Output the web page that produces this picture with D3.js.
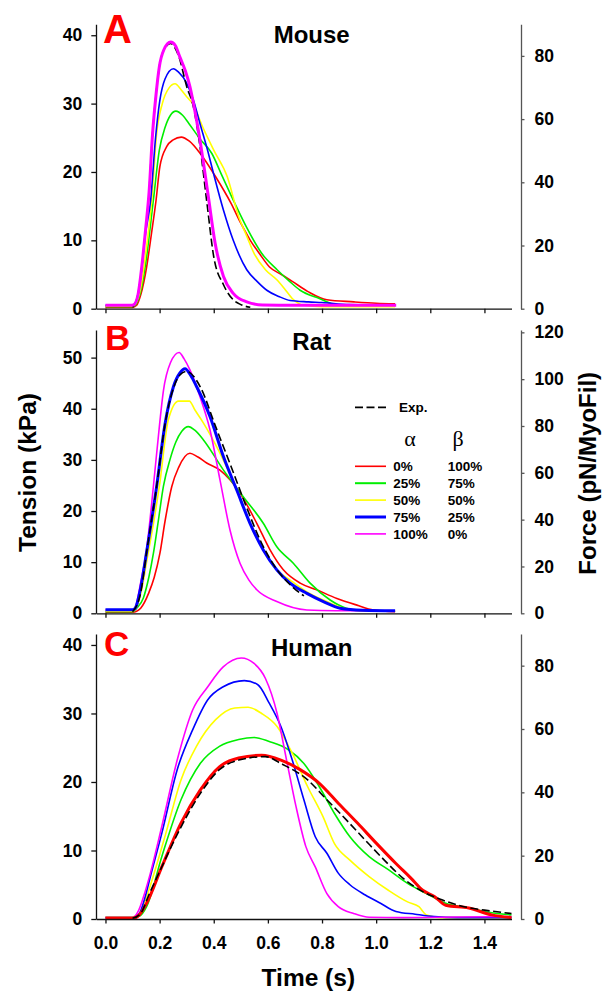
<!DOCTYPE html>
<html>
<head>
<meta charset="utf-8">
<script src="https://cdn.jsdelivr.net/npm/d3@7"></script>
<style>
  body { margin: 0; background: #fff; }
  svg text { font-family: "Liberation Sans", Arial, sans-serif; font-weight: bold; }
</style>
</head>
<body>
<svg width="603" height="992"></svg>
<script>
// ---- data: [time (s), tension (kPa)] ----
var timeTicks = [0, 0.2, 0.4, 0.6, 0.8, 1.0, 1.2, 1.4];

var mouseTicksL = [0, 10, 20, 30, 40];
var mouseTicksR = [0, 20, 40, 60, 80];
var ratTicksL = [0, 10, 20, 30, 40, 50];
var ratTicksR = [0, 20, 40, 60, 80, 100, 120];
var humanTicksL = [0, 10, 20, 30, 40];
var humanTicksR = [0, 20, 40, 60, 80];

var legendAlpha = ["0%", "25%", "50%", "75%", "100%"];
var legendBeta = ["100%", "75%", "50%", "25%", "0%"];

// Mouse
var mouseExp = [[0.1,0.2],[0.12,2],[0.134,6],[0.148,11.5],[0.161,17],[0.174,25.6],[0.186,31],[0.199,35.4],[0.215,37.8],[0.24,38.8],[0.27,37],[0.3,32.5],[0.325,29.5],[0.35,23.5],[0.375,15.4],[0.4,7.6],[0.436,3.5],[0.472,1.3],[0.5,0.6],[0.535,0.2]];
var mouseRed = [[0,0.2],[0.1,0.2],[0.115,0.5],[0.13,2],[0.152,6.1],[0.17,11],[0.187,15.9],[0.201,20.8],[0.226,23.7],[0.25,24.7],[0.28,25.1],[0.31,24.5],[0.35,22.7],[0.407,19.3],[0.464,15.4],[0.5,12.5],[0.535,10],[0.57,8],[0.606,6.1],[0.65,5],[0.69,4],[0.748,2.5],[0.818,1.3],[0.918,1.0],[1.0,0.8],[1.07,0.7]];
var mouseGreen = [[0,0.3],[0.1,0.3],[0.115,0.8],[0.13,2.5],[0.148,6.5],[0.177,15.9],[0.199,23.2],[0.22,26.5],[0.24,28.3],[0.26,28.9],[0.285,28.3],[0.308,27.1],[0.35,24.8],[0.393,22.7],[0.43,19.5],[0.478,15.4],[0.52,12],[0.577,8.1],[0.634,5.7],[0.68,4],[0.719,2.7],[0.79,1.5],[0.86,0.5],[1.07,0.4]];
var mouseYellow = [[0,0.4],[0.1,0.4],[0.112,0.8],[0.13,3],[0.15,8.5],[0.171,15.9],[0.189,25.6],[0.21,30],[0.235,32.3],[0.257,32.9],[0.28,32],[0.3,31],[0.322,30],[0.36,26.5],[0.4,23.2],[0.45,19.3],[0.492,13.5],[0.52,10.8],[0.549,8.1],[0.591,5.7],[0.634,4.2],[0.66,3],[0.69,1.5],[0.733,0.5],[0.8,0.3],[1.07,0.3]];
var mouseBlue = [[0,0.5],[0.1,0.5],[0.112,1],[0.13,4.5],[0.148,11],[0.167,15.9],[0.185,25],[0.201,30.5],[0.22,33.6],[0.251,35.1],[0.27,34.6],[0.3,33],[0.325,30.5],[0.349,27.1],[0.375,23.5],[0.399,19.8],[0.436,14.4],[0.472,10],[0.522,5.7],[0.56,4],[0.596,2.7],[0.64,1.8],[0.682,1.2],[0.75,1.0],[0.8,0.9],[0.9,0.6],[1.07,0.5]];
var mouseMagenta = [[0,0.5],[0.095,0.5],[0.105,0.6],[0.12,2],[0.134,6.1],[0.148,11.5],[0.161,17],[0.174,25.6],[0.186,31],[0.199,35.4],[0.215,37.8],[0.241,39],[0.258,38.5],[0.275,36.8],[0.295,34.8],[0.312,32.5],[0.33,29],[0.349,24.7],[0.365,20.5],[0.38,16.4],[0.405,9.6],[0.436,4.7],[0.472,2.25],[0.522,1.0],[0.58,0.55],[0.7,0.5],[0.9,0.5],[1.074,0.5]];

// Rat
var ratExp = [[0.1,0.3],[0.13,4],[0.152,12],[0.189,24.8],[0.22,37],[0.251,44],[0.275,46.6],[0.3,47.3],[0.35,44.3],[0.407,36.5],[0.464,28.7],[0.52,20.9],[0.577,13.7],[0.634,8.5],[0.69,5.2],[0.733,3.4]];
var ratRed = [[0,0.2],[0.1,0.2],[0.115,0.4],[0.13,1],[0.16,4],[0.18,7],[0.201,11.7],[0.22,18],[0.245,24.8],[0.27,28.5],[0.312,31.3],[0.34,30.6],[0.374,29.4],[0.423,28],[0.46,26.1],[0.497,23.5],[0.559,17.6],[0.608,12.4],[0.657,8.5],[0.719,5.9],[0.78,4.6],[0.855,2.9],[0.929,1.6],[0.99,0.65],[1.07,0.3]];
var ratGreen = [[0,0.3],[0.1,0.3],[0.115,1],[0.14,3],[0.16,7],[0.177,11.7],[0.195,18],[0.214,24.8],[0.238,30],[0.26,33.5],[0.282,35.6],[0.306,36.5],[0.33,35.8],[0.362,33.9],[0.436,28],[0.509,22.8],[0.583,17.6],[0.633,13],[0.694,9.8],[0.756,5.9],[0.83,2.6],[0.889,1.0],[0.96,0.4],[1.07,0.4]];
var ratYellow = [[0,0.4],[0.1,0.4],[0.113,1],[0.135,5],[0.155,11],[0.177,17.5],[0.199,24.8],[0.232,37.8],[0.27,41.5],[0.31,41.5],[0.33,39.8],[0.362,37.2],[0.423,31.3],[0.485,24.1],[0.534,17.6],[0.583,12.4],[0.633,8.5],[0.682,6.5],[0.744,4.2],[0.805,2.6],[0.89,0.8],[0.95,0.5],[1.07,0.4]];
var ratBlue = [[0,0.7],[0.1,0.7],[0.11,1],[0.13,5],[0.152,12],[0.189,24.8],[0.22,37],[0.251,44.3],[0.275,47],[0.294,47.8],[0.315,46.5],[0.337,44.3],[0.386,38.5],[0.436,30.6],[0.485,24.1],[0.534,17.6],[0.583,12.4],[0.633,8.5],[0.682,5.9],[0.744,3.9],[0.805,2.3],[0.867,1.0],[0.95,0.6],[1.07,0.5]];
var ratMagenta = [[0,0.65],[0.1,0.65],[0.109,1.0],[0.13,6],[0.152,12.5],[0.177,24.8],[0.2,37],[0.214,43.5],[0.24,49],[0.272,51],[0.29,49.8],[0.312,47.6],[0.349,42.4],[0.386,35.9],[0.423,26.1],[0.46,16.3],[0.497,9.8],[0.53,6.5],[0.559,4.6],[0.633,2.3],[0.744,0.65],[0.85,0.5],[1.07,0.5]];

// Human
var humanExp = [[0.1,0.1],[0.13,0.8],[0.16,3.5],[0.208,7.6],[0.28,13.5],[0.35,18.3],[0.421,21.8],[0.492,23.2],[0.591,23.7],[0.648,22.7],[0.747,20.3],[0.818,17.4],[0.889,14.5],[0.96,11.5],[1.03,8.6],[1.101,5.9],[1.172,4.0],[1.243,2.8],[1.314,1.9],[1.4,1.3],[1.5,0.8]];
var humanRed = [[0,0.1],[0.1,0.1],[0.125,0.6],[0.152,2.3],[0.208,7.6],[0.279,14],[0.35,18.8],[0.421,22.2],[0.492,23.5],[0.577,23.9],[0.648,23.2],[0.719,21.8],[0.79,19.8],[0.86,16.9],[0.931,14],[1.002,11],[1.073,8.1],[1.13,5.9],[1.172,4.2],[1.215,3.3],[1.257,2.0],[1.342,1.6],[1.427,0.6],[1.5,0.2]];
var humanGreen = [[0,0.2],[0.1,0.2],[0.125,0.4],[0.152,1.8],[0.208,9.1],[0.279,17.4],[0.35,22.7],[0.421,25.2],[0.492,26.2],[0.549,26.5],[0.605,25.9],[0.676,24.7],[0.733,22.7],[0.79,19.3],[0.846,15.4],[0.903,12],[0.974,9.1],[1.045,7.2],[1.116,5.2],[1.186,3.7],[1.257,2.3],[1.342,1.6],[1.427,0.9],[1.5,0.6]];
var humanYellow = [[0,0.3],[0.1,0.3],[0.125,0.8],[0.15,3],[0.18,6.7],[0.223,12.5],[0.279,20.3],[0.336,25.2],[0.407,29.1],[0.478,30.8],[0.527,30.9],[0.577,30],[0.634,28.1],[0.69,24.2],[0.747,19.3],[0.804,14.9],[0.846,11],[0.903,8.6],[0.974,6.2],[1.045,4.2],[1.116,2.5],[1.158,1.8],[1.186,0.6],[1.243,0.2],[1.5,0.2]];
var humanBlue = [[0,0.2],[0.1,0.2],[0.125,0.8],[0.145,3],[0.166,6.2],[0.208,12.5],[0.265,21.8],[0.322,27.6],[0.378,32],[0.435,33.9],[0.513,34.8],[0.563,34.2],[0.605,31.5],[0.648,28.1],[0.69,23.2],[0.733,17.4],[0.775,12],[0.818,9.6],[0.86,6.7],[0.903,5.0],[0.96,3.5],[1.016,2.3],[1.073,1.1],[1.144,0.7],[1.215,0.35],[1.3,0.2],[1.5,0.2]];
var humanMagenta = [[0,0.2],[0.1,0.2],[0.123,1.3],[0.145,3.8],[0.166,6.7],[0.208,13.5],[0.265,23.2],[0.322,30.5],[0.378,33.9],[0.435,36.8],[0.502,38.1],[0.549,37.3],[0.591,35.1],[0.634,30],[0.669,23.2],[0.704,16.4],[0.74,10.6],[0.775,7.6],[0.818,3.7],[0.86,1.8],[0.917,0.8],[0.974,0.25],[1.1,0.2],[1.3,0.3],[1.5,0.35]];

// ---- layout ----
var axisLeftX = 96, axisRightX = 521;
var font = '"Liberation Sans", Arial, sans-serif';

var colors = { red: "#ff0000", green: "#00ee00", yellow: "#ffff00", blue: "#0000ff", magenta: "#ff00ff" };

var panels = [
  { title: "Mouse", letter: "A", letterSize: 40, letterX: 103, base: 308.7, top: 24.3, leftMax: 41.6, rightMax: 90,
    ticksL: mouseTicksL, ticksR: mouseTicksR, labels: false, thick: "magenta", expOnTop: false,
    series: { red: mouseRed, green: mouseGreen, yellow: mouseYellow, blue: mouseBlue, magenta: mouseMagenta }, exp: mouseExp },
  { title: "Rat", letter: "B", letterSize: 35, letterX: 105, base: 613.3, top: 330, leftMax: 55.4, rightMax: 121,
    ticksL: ratTicksL, ticksR: ratTicksR, labels: false, thick: "blue", expOnTop: true,
    series: { red: ratRed, green: ratGreen, yellow: ratYellow, blue: ratBlue, magenta: ratMagenta }, exp: ratExp },
  { title: "Human", letter: "C", letterSize: 35, letterX: 104, base: 919, top: 634, leftMax: 41.6, rightMax: 90,
    ticksL: humanTicksL, ticksR: humanTicksR, labels: true, thick: "red", expOnTop: true,
    series: { red: humanRed, green: humanGreen, yellow: humanYellow, blue: humanBlue, magenta: humanMagenta }, exp: humanExp }
];

var svg = d3.select("svg");

var xScale = d3.scaleLinear()
  .domain([-0.035, 1.5])
  .range([axisLeftX, 511.5]);

function styleAxis(g, color, size) {
  g.attr("font-family", null).attr("font-size", null).attr("color", color);
  g.selectAll("path, line").attr("stroke-width", 1.3);
  g.selectAll("text")
    .attr("font-family", font)
    .attr("font-size", size)
    .attr("font-weight", "bold")
    .attr("fill", "#000");
}

panels.forEach(function(p) {
  var yL = d3.scaleLinear().domain([0, p.leftMax]).range([p.base, p.top]);
  var yR = d3.scaleLinear().domain([0, p.rightMax]).range([p.base, p.top]);

  var line = d3.line()
    .x(function(d) { return xScale(d[0]); })
    .y(function(d) { return yL(d[1]); })
    .curve(d3.curveMonotoneX);

  var plot = svg.append("g").classed("plot", true);

  var order = ["red", "green", "yellow", "blue", "magenta"];
  // thick series drawn last (on top)
  order = order.filter(function(k) { return k !== p.thick; }).concat([p.thick]);

  function drawExp() {
    plot.append("path")
      .attr("d", line(p.exp))
      .attr("fill", "none")
      .attr("stroke", "#000")
      .attr("stroke-width", 1.6)
      .attr("stroke-dasharray", "8,3.5");
  }

  order.forEach(function(k, i) {
    if (!p.expOnTop && k === p.thick) drawExp();
    plot.append("path")
      .attr("d", line(p.series[k]))
      .attr("fill", "none")
      .attr("stroke", colors[k])
      .attr("stroke-width", k === p.thick ? 3 : 1.6)
      .attr("stroke-linejoin", "round");
  });
  if (p.expOnTop) drawExp();

  // axes
  var xAxis = d3.axisBottom(xScale)
    .tickValues(timeTicks)
    .tickSize(4.5)
    .tickSizeOuter(0)
    .tickPadding(13)
    .tickFormat(p.labels ? d3.format(".1f") : "");
  svg.append("g")
    .attr("transform", "translate(0," + p.base + ")")
    .call(xAxis)
    .call(styleAxis, "#111", 17.5);

  svg.append("g")
    .attr("transform", "translate(" + axisLeftX + ",0)")
    .call(d3.axisLeft(yL).tickValues(p.ticksL).tickSize(4.7).tickSizeOuter(0).tickPadding(9))
    .call(styleAxis, "#111", 17.5);

  svg.append("g")
    .attr("transform", "translate(" + axisRightX + ",0)")
    .call(d3.axisRight(yR).tickValues(p.ticksR).tickSize(3.5).tickSizeOuter(0).tickPadding(10))
    .call(styleAxis, "#555", 17.5);

  // panel letter and title
  svg.append("text")
    .attr("x", p.letterX)
    .attr("y", p.top === 24.3 ? 42.7 : p.base - 263.5)
    .attr("font-size", p.letterSize)
    .attr("fill", "#ff0000")
    .text(p.letter);

  svg.append("text")
    .attr("x", 311.7)
    .attr("y", p.top === 24.3 ? 42.7 : p.base - 263.5)
    .attr("text-anchor", "middle")
    .attr("font-size", 24)
    .attr("fill", "#000")
    .text(p.title);
});

// axis titles
svg.append("text")
  .attr("transform", "translate(36,472.5) rotate(-90)")
  .attr("text-anchor", "middle")
  .attr("font-size", 24.5)
  .text("Tension (kPa)");

svg.append("text")
  .attr("transform", "translate(596,473.3) rotate(-90)")
  .attr("text-anchor", "middle")
  .attr("font-size", 24)
  .text("Force (pN/MyoFil)");

svg.append("text")
  .attr("x", 308.3)
  .attr("y", 986)
  .attr("text-anchor", "middle")
  .attr("font-size", 24.5)
  .text("Time (s)");

// legend (panel B)
var legend = svg.append("g").classed("legend", true);

legend.append("line")
  .attr("x1", 355).attr("x2", 386)
  .attr("y1", 407.3).attr("y2", 407.3)
  .attr("stroke", "#000")
  .attr("stroke-width", 1.8)
  .attr("stroke-dasharray", "8,3.5");
legend.append("text")
  .attr("x", 399).attr("y", 412.3)
  .attr("font-size", 13.5)
  .text("Exp.");

legend.append("text")
  .attr("x", 410).attr("y", 446)
  .attr("text-anchor", "middle")
  .attr("font-size", 22)
  .style("font-family", '"Liberation Serif", "Times New Roman", serif')
  .style("font-weight", "normal")
  .text("α");
legend.append("text")
  .attr("x", 458).attr("y", 446)
  .attr("text-anchor", "middle")
  .attr("font-size", 22)
  .style("font-family", '"Liberation Serif", "Times New Roman", serif')
  .style("font-weight", "normal")
  .text("β");

var legendKeys = ["red", "green", "yellow", "blue", "magenta"];
var rows = legend.selectAll("g.legendLine")
  .data(legendKeys)
  .enter()
  .append("g")
  .classed("legendLine", true)
  .attr("transform", function(d, i) { return "translate(0," + (466.3 + i * 16.9) + ")"; });

rows.append("line")
  .attr("x1", 355).attr("x2", 386)
  .attr("y1", 0).attr("y2", 0)
  .attr("stroke", function(d) { return colors[d]; })
  .attr("stroke-width", function(d) { return d === "blue" ? 3 : (d === "green" ? 2 : 1.6); });

rows.append("text")
  .attr("x", 393.3).attr("y", 4.6)
  .attr("font-size", 13.5)
  .text(function(d, i) { return legendAlpha[i]; });

rows.append("text")
  .attr("x", 447.7).attr("y", 4.6)
  .attr("font-size", 13.5)
  .text(function(d, i) { return legendBeta[i]; });
</script>
</body>
</html>
